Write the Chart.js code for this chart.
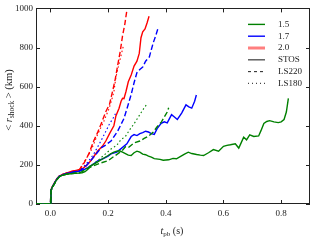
<!DOCTYPE html>
<html><head><meta charset="utf-8">
<script src="https://cdn.jsdelivr.net/npm/chart.js@4"></script>
<style>html,body{margin:0;padding:0;background:#fff}#wrap{width:324px;height:245px;position:relative}</style>
</head><body><div id="wrap"><canvas id="c" width="324" height="245"></canvas></div>
<script>
// ---- data ----
const xTickValues = [0.0, 0.2, 0.4, 0.6, 0.8];
const yTickValues = [0, 200, 400, 600, 800, 1000];
const massLabels = ['1.5', '1.7', '2.0'];
const eosLabels = ['STOS', 'LS220', 'LS180'];

const startRed   = [[-0.05,0],[0,0],[0.002,70],[0.006,88],[0.012,102],[0.02,125],[0.03,142],[0.04,150],[0.055,158],[0.07,165],[0.085,170],[0.1,175]];
const startBlue  = [[-0.05,0],[0,0],[0.002,68],[0.006,86],[0.012,100],[0.02,122],[0.03,140],[0.04,148],[0.055,155],[0.07,160],[0.085,165],[0.1,168]];
const startGreen = [[-0.05,0],[0,0],[0.002,66],[0.006,85],[0.012,98],[0.02,120],[0.03,138],[0.04,146],[0.055,152],[0.07,155],[0.085,157],[0.1,158]];

const m15_STOS = [[0.11,160],[0.12,165],[0.13,178],[0.14,195],[0.16,212],[0.18,230],[0.2,248],[0.21,258],[0.22,265],[0.23,270],[0.24,272],[0.25,265],[0.26,258],[0.27,250],[0.28,248],[0.29,262],[0.3,270],[0.31,265],[0.32,255],[0.33,252],[0.34,245],[0.35,240],[0.36,232],[0.38,228],[0.391,224],[0.41,226],[0.425,233],[0.437,231],[0.45,242],[0.465,255],[0.478,265],[0.49,258],[0.507,253],[0.52,250],[0.531,248],[0.548,262],[0.565,278],[0.583,270],[0.6,295],[0.612,300],[0.624,303],[0.641,308],[0.653,286],[0.662,315],[0.67,342],[0.68,328],[0.691,353],[0.705,345],[0.722,348],[0.73,375],[0.74,412],[0.75,422],[0.76,426],[0.775,420],[0.79,416],[0.8,420],[0.81,432],[0.818,470],[0.825,540]];
const m15_LS220 = [[0.115,170],[0.13,182],[0.15,196],[0.175,210],[0.2,221],[0.215,238],[0.233,256],[0.25,275],[0.26,292],[0.27,288],[0.29,312],[0.31,322],[0.325,335],[0.34,347],[0.355,365],[0.37,395],[0.385,420],[0.395,445],[0.405,470],[0.41,492]];
const m15_LS180 = [[0.115,172],[0.13,188],[0.15,205],[0.175,236],[0.19,255],[0.21,281],[0.23,300],[0.245,330],[0.26,345],[0.275,380],[0.29,410],[0.305,445],[0.32,480],[0.335,512]];

const m17_STOS = [[0.115,175],[0.13,186],[0.15,205],[0.164,221],[0.18,230],[0.2,245],[0.21,256],[0.23,265],[0.245,283],[0.265,308],[0.28,345],[0.29,355],[0.3,350],[0.31,360],[0.32,365],[0.33,372],[0.34,368],[0.35,360],[0.36,356],[0.37,385],[0.384,412],[0.395,420],[0.405,415],[0.42,457],[0.43,445],[0.44,432],[0.455,465],[0.47,507],[0.48,497],[0.49,490],[0.5,525],[0.506,557]];
const m17_LS220 = [[0.115,182],[0.13,205],[0.15,240],[0.175,286],[0.19,300],[0.21,322],[0.233,372],[0.255,437],[0.27,510],[0.28,560],[0.29,620],[0.3,672],[0.31,688],[0.32,700],[0.33,730],[0.343,752],[0.35,790],[0.356,822],[0.365,860],[0.372,893]];
const m17_LS180 = [[0.115,190],[0.13,215],[0.15,255],[0.175,322],[0.19,365],[0.205,410],[0.22,445],[0.228,470]];

const m20_STOS = [[0.115,185],[0.127,200],[0.14,221],[0.164,271],[0.18,295],[0.192,322],[0.205,360],[0.22,400],[0.227,450],[0.238,490],[0.245,525],[0.25,540],[0.255,538],[0.262,575],[0.27,625],[0.28,660],[0.29,705],[0.3,730],[0.308,770],[0.314,850],[0.32,880],[0.328,895],[0.335,925],[0.342,960]];
const m20_LS220 = [[0.115,205],[0.133,256],[0.15,322],[0.165,370],[0.175,407],[0.192,472],[0.205,510],[0.215,573],[0.225,640],[0.233,707],[0.242,780],[0.25,859],[0.258,920],[0.265,990]];
const m20_LS180 = [[0.115,210],[0.14,270],[0.164,357],[0.185,422],[0.203,487],[0.212,530],[0.22,573],[0.227,648],[0.24,730],[0.254,815]];

// ---- styles ----
const colGreen = '#008000', colBlue = '#0000ff', colRed = '#ff0000';
const dashes = { STOS: [], LS220: [5.5, 2.6], LS180: [1.5, 2.5] };
const FONT = "'Liberation Serif', 'DejaVu Serif', serif";

function mk(start, body, color, eos) {
  return {
    label: eos,
    data: start.concat(body).map(p => ({x: p[0], y: p[1]})),
    borderColor: color,
    borderWidth: eos === 'LS180' ? 1.1 : 1.4,
    borderDash: dashes[eos],
    pointRadius: 0,
    tension: 0,
    fill: false
  };
}

const datasets = [
  mk(startGreen, m15_STOS, colGreen, 'STOS'),
  mk(startGreen, m15_LS220, colGreen, 'LS220'),
  mk(startGreen, m15_LS180, colGreen, 'LS180'),
  mk(startBlue, m17_STOS, colBlue, 'STOS'),
  mk(startBlue, m17_LS220, colBlue, 'LS220'),
  mk(startBlue, m17_LS180, colBlue, 'LS180'),
  mk(startRed, m20_STOS, colRed, 'STOS'),
  mk(startRed, m20_LS220, colRed, 'LS220'),
  mk(startRed, m20_LS180, colRed, 'LS180')
];

const legendItems = [
  {text: massLabels[0], color: colGreen, width: 1.4, dash: []},
  {text: massLabels[1], color: colBlue, width: 1.4, dash: []},
  {text: massLabels[2], color: 'rgba(255,0,0,0.5)', width: 3, dash: []},
  {text: eosLabels[0], color: '#555', width: 1.4, dash: []},
  {text: eosLabels[1], color: '#333', width: 1.1, dash: [3, 3]},
  {text: eosLabels[2], color: '#444', width: 1.1, dash: [1, 3]}
];

function drawRich(ctx, parts, size) {
  let w = 0;
  const fonts = parts.map(p => {
    const s = p.sub ? size * 0.7 : size;
    const f = (p.italic ? 'italic ' : '') + s + 'px ' + FONT;
    ctx.font = f;
    const pw = ctx.measureText(p.t).width;
    w += pw;
    return {f, pw};
  });
  let x = -w / 2;
  parts.forEach((p, i) => {
    ctx.font = fonts[i].f;
    ctx.fillText(p.t, x, p.sub ? size * 0.28 : 0);
    x += fonts[i].pw;
  });
}

const decor = {
  id: 'decor',
  beforeDatasetsDraw(chart) {
    const {ctx, chartArea: a, scales: {x, y}} = chart;
    ctx.save();
    ctx.strokeStyle = '#222';
    ctx.lineWidth = 1;
    ctx.strokeRect(Math.round(a.left) + 0.5, Math.round(a.top) + 0.5, Math.round(a.right - a.left) - 1, Math.round(a.bottom - a.top) - 1);
    ctx.beginPath();
    const L = 4;
    xTickValues.forEach(v => {
      const px = Math.round(x.getPixelForValue(v)) + 0.5;
      ctx.moveTo(px, a.bottom); ctx.lineTo(px, a.bottom - L);
      ctx.moveTo(px, a.top); ctx.lineTo(px, a.top + L);
    });
    yTickValues.forEach(v => {
      const py = Math.round(y.getPixelForValue(v)) + 0.5;
      ctx.moveTo(a.left, py); ctx.lineTo(a.left + L, py);
      ctx.moveTo(a.right, py); ctx.lineTo(a.right - L, py);
    });
    ctx.stroke();
    ctx.restore();
  },
  afterDraw(chart) {
    const {ctx, chartArea: a} = chart;
    ctx.save();
    const lx0 = a.right - 62, lx1 = a.right - 45, tx = a.right - 32;
    legendItems.forEach((it, i) => {
      const yy = a.top + 16 + i * 11.8;
      ctx.beginPath();
      ctx.strokeStyle = it.color;
      ctx.lineWidth = it.width;
      ctx.setLineDash(it.dash);
      ctx.moveTo(lx0, yy); ctx.lineTo(lx1, yy);
      ctx.stroke();
      ctx.setLineDash([]);
      ctx.fillStyle = '#222';
      ctx.font = '9px ' + FONT;
      ctx.textAlign = 'left';
      ctx.textBaseline = 'middle';
      ctx.fillText(it.text, tx, yy);
    });
    ctx.fillStyle = '#222';
    ctx.textAlign = 'left';
    ctx.textBaseline = 'middle';
    ctx.save();
    ctx.translate(172, 231);
    drawRich(ctx, [{t: 't', italic: true}, {t: 'pb', sub: true}, {t: ' (s)'}], 10);
    ctx.restore();
    ctx.save();
    ctx.translate(9, 100);
    ctx.rotate(-Math.PI / 2);
    drawRich(ctx, [{t: '< '}, {t: 'r', italic: true}, {t: 'shock', sub: true}, {t: ' > (km)'}], 10.5);
    ctx.restore();
    ctx.restore();
  }
};

new Chart(document.getElementById('c'), {
  type: 'line',
  data: { datasets },
  options: {
    responsive: false,
    animation: false,
    devicePixelRatio: 1,
    layout: { padding: { top: 5, right: 14, left: 0, bottom: 0 } },
    plugins: { legend: { display: false }, tooltip: { enabled: false } },
    scales: {
      x: {
        type: 'linear', min: -0.05, max: 0.9,
        grid: { display: false, drawTicks: false },
        border: { display: false },
        afterBuildTicks: s => { s.ticks = xTickValues.map(v => ({value: v})); },
        afterFit: s => { s.height = 41; },
        ticks: { padding: 4, color: '#222', font: { family: FONT, size: 9 }, callback: v => Number(v).toFixed(1), maxRotation: 0 }
      },
      y: {
        type: 'linear', min: 0, max: 1000,
        grid: { display: false, drawTicks: false },
        border: { display: false },
        afterBuildTicks: s => { s.ticks = yTickValues.map(v => ({value: v})); },
        afterFit: s => { s.width = 36; },
        ticks: { padding: 3, color: '#222', font: { family: FONT, size: 9 }, callback: v => String(v) }
      }
    }
  },
  plugins: [decor]
});
</script>
</body></html>
